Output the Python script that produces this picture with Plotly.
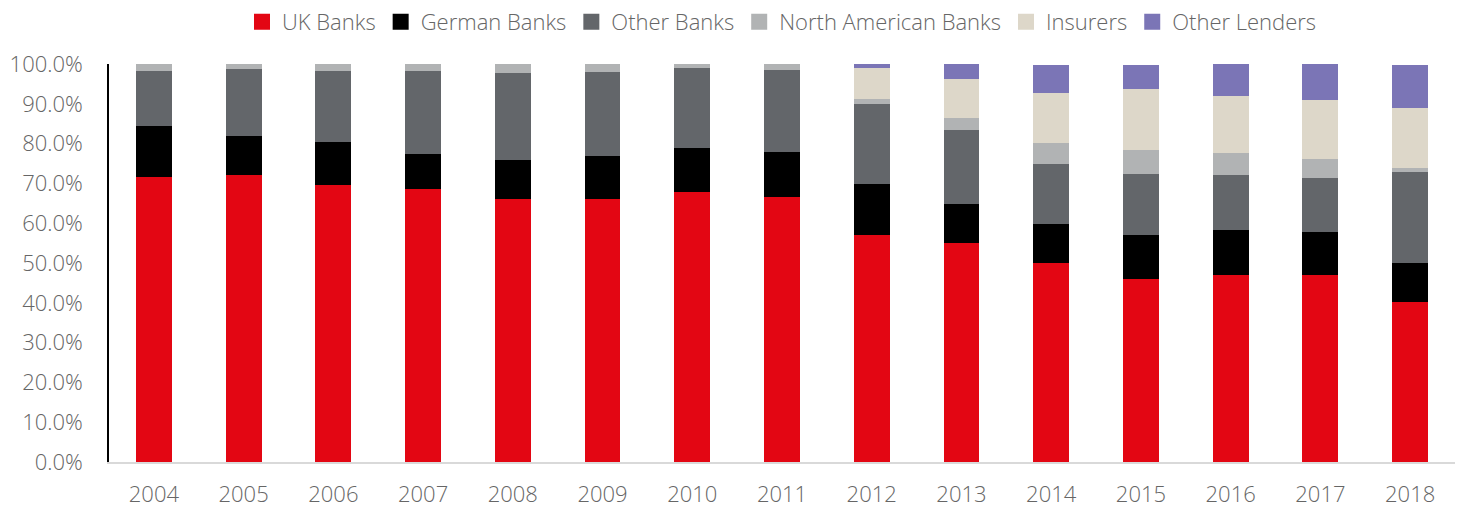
import plotly.graph_objects as go

years = ["2004", "2005", "2006", "2007", "2008", "2009", "2010", "2011",
         "2012", "2013", "2014", "2015", "2016", "2017", "2018"]

uk_banks = [71.5, 72.1, 69.6, 68.6, 66.1, 66.1, 67.8, 66.6, 57.0, 55.0, 50.1, 46.1, 47.0, 47.0, 40.1]
german_banks = [12.9, 9.9, 10.9, 8.9, 9.9, 10.9, 11.2, 11.4, 12.9, 9.8, 9.8, 10.9, 11.3, 10.9, 10.0]
other_banks = [13.8, 16.8, 17.7, 20.7, 21.8, 21.1, 20.1, 20.6, 20.0, 18.6, 15.0, 15.4, 13.8, 13.5, 22.8]
north_american_banks = [1.8, 1.2, 1.8, 1.8, 2.2, 1.9, 0.9, 1.4, 1.3, 3.0, 5.3, 5.9, 5.5, 4.7, 1.0]
insurers = [0, 0, 0, 0, 0, 0, 0, 0, 7.7, 9.9, 12.5, 15.4, 14.4, 14.9, 15.0]
other_lenders = [0, 0, 0, 0, 0, 0, 0, 0, 1.1, 3.7, 7.0, 6.0, 8.0, 9.0, 10.9]

series = [
    ("UK Banks", uk_banks, "#E30613"),
    ("German Banks", german_banks, "#000000"),
    ("Other Banks", other_banks, "#63666A"),
    ("North American Banks", north_american_banks, "#B1B3B4"),
    ("Insurers", insurers, "#DDD7C9"),
    ("Other Lenders", other_lenders, "#7B75B6"),
]

font_family = "Open Sans"
text_color = "#666666"

fig = go.Figure()
for name, vals, color in series:
    fig.add_trace(go.Bar(
        x=years, y=[v / 100 for v in vals], name=name, legendgroup=name,
        showlegend=False,
        marker=dict(color=color, line=dict(width=0)),
    ))
# legend entries with larger square swatches
for name, vals, color in series:
    fig.add_trace(go.Scatter(
        x=[None], y=[None], mode="markers", name=name, legendgroup=name,
        marker=dict(symbol="square", size=16, color=color),
    ))

fig.update_layout(
    barmode="stack",
    bargap=0.6,
    width=1458, height=508,
    margin=dict(l=109, r=3, t=64, b=46, autoexpand=False),
    paper_bgcolor="white", plot_bgcolor="white",
    font=dict(family=font_family, size=22, color=text_color, weight=300),
    legend=dict(
        orientation="h", x=0.5, xanchor="center",
        yref="container", y=0.957, yanchor="middle",
        font=dict(family=font_family, size=22, color=text_color, weight=300),
        traceorder="normal", itemwidth=30, itemsizing="trace",
    ),
    xaxis=dict(
        showgrid=False, showline=True, linecolor="#D9D9D9", linewidth=1.5,
        ticks="", tickfont=dict(size=22, color=text_color), ticklabelstandoff=12,
        automargin=False,
    ),
    yaxis=dict(
        range=[0, 1], tickformat=".1%", dtick=0.1,
        showgrid=False, showline=True, linecolor="#000000", linewidth=1.5,
        ticks="", tickfont=dict(size=22, color=text_color), zeroline=False,
        ticklabelstandoff=20, automargin=False,
    ),
)

fig.write_html("out.html")
